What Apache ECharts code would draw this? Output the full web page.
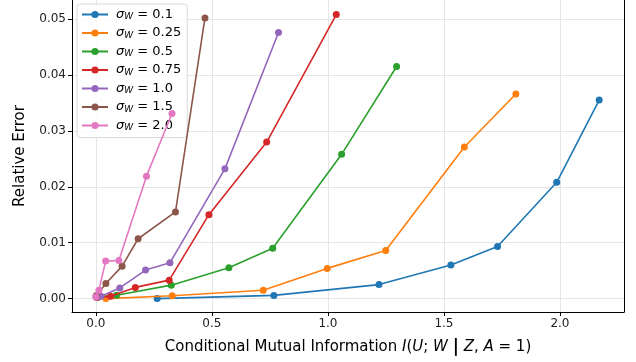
<!DOCTYPE html>
<html>
<head>
<meta charset="utf-8">
<script src="https://cdn.jsdelivr.net/npm/echarts@6/dist/echarts.min.js"></script>
<style>
  html, body { margin: 0; padding: 0; background: #fff; }
  #chart { width: 636px; height: 362px; }
</style>
</head>
<body>
<div id="chart"></div>
<script>
// sigma_W values and colors (matplotlib tab10)
const sigmas = ['0.1', '0.25', '0.5', '0.75', '1.0', '1.5', '2.0'];
const colors = ['#1f77b4', '#ff7f0e', '#2ca02c', '#d62728', '#9467bd', '#8c564b', '#e377c2'];

// [conditional mutual information, relative error] per sigma_W
const s01 = [[0.264, 0.0000], [0.767, 0.00057], [1.220, 0.0025], [1.530, 0.0060], [1.731, 0.0093], [1.986, 0.0208], [2.169, 0.0355]];
const s025 = [[0.043, 0.0000], [0.329, 0.0005], [0.721, 0.0015], [0.997, 0.0054], [1.249, 0.0086], [1.588, 0.0271], [1.810, 0.0366]];
const s05 = [[0.010, 0.0003], [0.089, 0.0006], [0.325, 0.0024], [0.573, 0.0055], [0.762, 0.0090], [1.059, 0.0258], [1.296, 0.0415]];
const s075 = [[0.005, 0.0002], [0.063, 0.0004], [0.170, 0.0020], [0.316, 0.0033], [0.487, 0.0150], [0.736, 0.0280], [1.036, 0.0508]];
const s10 = [[0.002, 0.0003], [0.022, 0.0004], [0.103, 0.0019], [0.214, 0.0051], [0.319, 0.0064], [0.556, 0.0232], [0.787, 0.0476]];
const s15 = [[0.001, 0.0005], [0.043, 0.0027], [0.113, 0.0058], [0.182, 0.0107], [0.343, 0.0155], [0.470, 0.0502]];
const s20 = [[0.000, 0.0003], [0.013, 0.0015], [0.042, 0.0067], [0.099, 0.0068], [0.218, 0.0219], [0.328, 0.0331]];
const seriesData = [s01, s025, s05, s075, s10, s15, s20];

const xTicks = [0.0, 0.5, 1.0, 1.5, 2.0];
const yTicks = [0.00, 0.01, 0.02, 0.03, 0.04, 0.05];

const chart = echarts.init(document.getElementById('chart'));
const font = 'DejaVu Sans';

let series = [];
for (let i = 0; i < sigmas.length; i++) {
    series.push({
        name: sigmas[i],
        type: 'line',
        data: seriesData[i],
        symbol: 'circle',
        symbolSize: 7,
        showSymbol: true,
        lineStyle: { width: 1.6, color: colors[i] },
        itemStyle: { color: colors[i] },
        z: 2 + i
    });
}

const option = {
    animation: false,
    color: colors,
    grid: { left: 72, right: 12, top: -2, bottom: 50, containLabel: false },
    legend: {
        orient: 'vertical',
        left: 77,
        top: 4,
        itemWidth: 26,
        itemHeight: 9,
        itemGap: 5,
        padding: [4, 6, 5, 4],
        borderColor: '#d9d9d9',
        borderWidth: 1,
        borderRadius: 3,
        backgroundColor: 'rgba(255,255,255,0.8)',
        data: sigmas,
        formatter: function (name) { return '{s|σ}{w|W}{n| = ' + name + '}'; },
        textStyle: {
            fontFamily: font,
            fontSize: 13,
            color: '#000',
            rich: {
                s: { fontFamily: font, fontStyle: 'italic', fontSize: 13, color: '#000', padding: [0, 0, 0, 3] },
                w: { fontFamily: font, fontStyle: 'italic', fontSize: 9, color: '#000', verticalAlign: 'bottom', padding: [5, 0, 0, 0] },
                n: { fontFamily: font, fontSize: 13, color: '#000' }
            }
        }
    },
    xAxis: {
        type: 'value',
        min: -0.103,
        max: 2.276,
        name: '{n|Conditional Mutual Information }{i|I}{n|(}{i|U}{n|; }{i|W}{n| }{b||}{n| }{i|Z}{n|, }{i|A}{n| = 1)}',
        nameLocation: 'middle',
        nameGap: 27,
        nameTextStyle: {
            fontFamily: font,
            fontSize: 15,
            color: '#000',
            rich: {
                n: { fontFamily: font, fontSize: 15, color: '#000' },
                i: { fontFamily: font, fontSize: 15, fontStyle: 'italic', color: '#000' },
                b: { fontFamily: font, fontSize: 17, fontWeight: 'bold', color: '#000' }
            }
        },
        axisLine: { show: true, onZero: false, lineStyle: { color: '#000', width: 1 } },
        axisTick: { show: true, length: 4, customValues: xTicks, lineStyle: { color: '#000' } },
        axisLabel: {
            customValues: xTicks,
            formatter: function (v) { return v.toFixed(1); },
            fontFamily: font, fontSize: 12, color: '#222', margin: 6
        },
        splitLine: { show: true, lineStyle: { color: '#e6e6e6', width: 1 } }
    },
    yAxis: [{
        type: 'value',
        min: -0.0024,
        max: 0.0534,
        name: 'Relative Error',
        nameLocation: 'middle',
        nameGap: 44,
        nameTextStyle: { fontFamily: font, fontSize: 15, color: '#000' },
        axisLine: { show: true, onZero: false, lineStyle: { color: '#000', width: 1 } },
        axisTick: { show: true, length: 4, customValues: yTicks, lineStyle: { color: '#000' } },
        axisLabel: {
            customValues: yTicks,
            formatter: function (v) { return v.toFixed(2); },
            fontFamily: font, fontSize: 12, color: '#222', margin: 6
        },
        splitLine: { show: true, lineStyle: { color: '#e6e6e6', width: 1 } }
    }, {
        // right spine
        type: 'value', position: 'right', min: -0.0024, max: 0.0534,
        axisLine: { show: true, onZero: false, lineStyle: { color: '#000' } },
        axisTick: { show: false }, axisLabel: { show: false }, splitLine: { show: false }
    }],
    series: series
};

chart.setOption(option);
</script>
</body>
</html>
